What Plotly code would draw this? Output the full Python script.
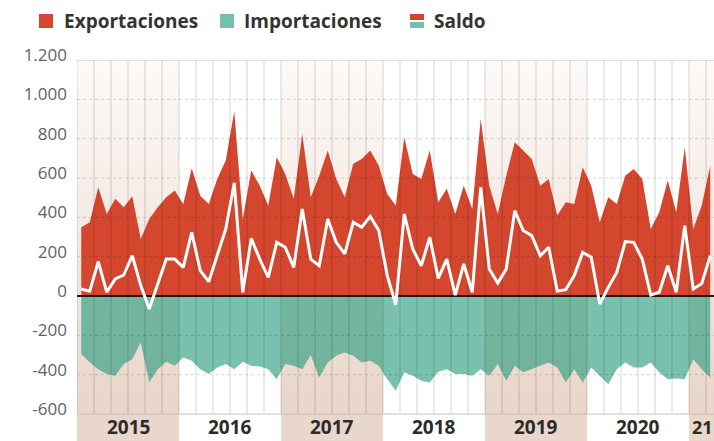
import plotly.graph_objects as go

# ---------------- data ----------------
years = [2015, 2016, 2017, 2018, 2019, 2020, 2021]
year_labels = ["2015", "2016", "2017", "2018", "2019", "2020", "21"]
months = [f"{y}-{m:02d}" for y in years for m in range(1, 13)][:75]

exportaciones = [350, 375, 553, 417, 494, 451, 507, 290, 392, 451, 502, 536,
                 468, 650, 510, 468, 595, 689, 940, 392, 638, 561, 460, 706,
                 621, 494, 824, 502, 612, 740, 595, 502, 672, 697, 740, 663,
                 519, 460, 807, 621, 595, 740, 477, 545, 417, 561, 443, 901,
                 561, 417, 612, 782, 740, 697, 561, 595, 409, 477, 468, 655,
                 561, 375, 502, 468, 612, 646, 595, 341, 426, 587, 426, 757,
                 341, 460, 663]
importaciones = [-295, -338, -372, -397, -405, -346, -321, -236, -439, -372, -334, -355,
                 -312, -329, -372, -397, -363, -346, -372, -334, -355, -358, -372, -423,
                 -346, -355, -372, -300, -414, -338, -304, -287, -304, -338, -329, -355,
                 -423, -482, -388, -405, -431, -439, -385, -372, -397, -397, -405, -372,
                 -405, -346, -431, -355, -388, -372, -355, -338, -363, -439, -372, -439,
                 -363, -405, -448, -372, -338, -363, -363, -338, -388, -423, -419, -423,
                 -321, -372, -414]
saldo = [36, 25, 175, 20, 87, 107, 205, 53, -66, 63, 188, 188,
         146, 324, 129, 73, 205, 341, 575, 19, 293, 188, 95, 273,
         248, 146, 443, 188, 154, 392, 273, 214, 375, 350, 405, 333,
         104, -45, 417, 239, 154, 299, 90, 188, 5, 163, 19, 553,
         137, 66, 137, 434, 333, 307, 205, 248, 25, 32, 104, 222,
         197, -41, 44, 120, 277, 273, 188, 5, 19, 154, 19, 358,
         36, 63, 205]

y_ticks = [-600, -400, -200, 0, 200, 400, 600, 800, 1000, 1200]
y_tick_labels = ["-600", "-400", "-200", "0", "200", "400", "600", "800", "1.000", "1.200"]

# ---------------- style ----------------
RED = "#d4472e"
TEAL = "rgba(38,155,125,0.62)"
TEAL_SOLID = "#72c1ad"
BEIGE = "#ead7cb"
FONT = "Open Sans"

W, H = 714, 441
L, R, T, B = 77, 0, 60, 0
YMIN, YMAX = -737, 1200
x_idx = list(range(len(months)))
XMIN, XMAX = -0.5, -0.5 + (W - L) / 8.5

fig = go.Figure()

# background year bands (gradient) + label strip
for k, y in enumerate(years):
    x0 = 12 * k - 0.5
    x1 = min(12 * k + 11.5, XMAX + 1)
    if k % 2 == 0:
        fig.add_trace(go.Scatter(
            x=[x0, x1, x1, x0, x0], y=[-600, -600, 1200, 1200, -600],
            mode="lines", line=dict(width=0), fill="toself",
            fillgradient=dict(type="vertical", start=-600, stop=1200,
                              colorscale=[[0, "#e9d5c9"], [0.5, "#f4e9e2"], [1, "#fdfaf8"]]),
            hoverinfo="skip", showlegend=False))
        fig.add_trace(go.Scatter(
            x=[x0, x1, x1, x0, x0], y=[YMIN, YMIN, -600, -600, YMIN],
            mode="lines", line=dict(width=0), fill="toself", fillcolor=BEIGE,
            hoverinfo="skip", showlegend=False))

# export / import areas
fig.add_trace(go.Scatter(x=x_idx, y=exportaciones, mode="lines", line=dict(width=0, color=RED),
                         fill="tozeroy", fillcolor=RED, hoverinfo="skip", showlegend=False))
fig.add_trace(go.Scatter(x=x_idx, y=importaciones, mode="lines", line=dict(width=0, color=TEAL),
                         fill="tozeroy", fillcolor=TEAL, hoverinfo="skip", showlegend=False))

# horizontal dotted grid
hx, hy = [], []
for v in y_ticks:
    if v in (0, -600, 1200):
        continue
    hx += [XMIN, XMAX, None]
    hy += [v, v, None]
fig.add_trace(go.Scatter(x=hx, y=hy, mode="lines", line=dict(color="rgba(0,0,0,0.16)", width=1, dash="dot"),
                         hoverinfo="skip", showlegend=False))

# vertical grid every two months (drawn above the areas)
vx, vy = [], []
g = -0.5
while g <= XMAX:
    vx += [g, g, None]
    vy += [-600, 1200, None]
    g += 2
fig.add_trace(go.Scatter(x=vx, y=vy, mode="lines", line=dict(color="rgba(0,0,0,0.17)", width=1),
                         hoverinfo="skip", showlegend=False))

# top / bottom border and zero line
fig.add_trace(go.Scatter(x=[XMIN, XMAX, None, XMIN, XMAX], y=[1200, 1200, None, -600, -600], mode="lines",
                         line=dict(color="#c4c4c4", width=1), hoverinfo="skip", showlegend=False))
fig.add_trace(go.Scatter(x=[XMIN, XMAX], y=[0, 0], mode="lines",
                         line=dict(color="#1a1a1a", width=2), hoverinfo="skip", showlegend=False))

# saldo line
fig.add_trace(go.Scatter(x=x_idx, y=saldo, mode="lines", line=dict(color="white", width=3),
                         hoverinfo="skip", showlegend=False))

# year labels
for k, lab in enumerate(year_labels):
    if 12 * k + 5.5 <= XMAX:
        fig.add_annotation(x=12 * k + 5.5, y=-668, text=f"<b>{lab}</b>", showarrow=False,
                           xanchor="center", yanchor="middle",
                           font=dict(family=FONT, size=19, color="#2b2b2b"))
    else:
        fig.add_annotation(x=12 * k - 0.3, y=-668, text=f"<b>{lab}</b>", showarrow=False,
                           xanchor="left", yanchor="middle", borderpad=0,
                           font=dict(family=FONT, size=18, color="#2b2b2b"))

# custom legend (pixel positions converted to paper)
def px(xp):
    return (xp - L) / (W - L - R)

def py(yp):
    return (H - B - yp) / (H - T - B)

def sq(x0, y0, x1, y1, color):
    fig.add_shape(type="rect", xref="paper", yref="paper", x0=px(x0), x1=px(x1), y0=py(y1), y1=py(y0),
                  fillcolor=color, line=dict(width=0), layer="above")

def txt(x, y, s):
    fig.add_annotation(xref="paper", yref="paper", x=px(x), y=py(y), text=f"<b>{s}</b>", showarrow=False,
                       xanchor="left", yanchor="middle", font=dict(family=FONT, size=19, color="#333333"))

sq(39, 14, 53, 28, RED)
txt(62, 21, "Exportaciones")
sq(220, 14, 234, 28, TEAL_SOLID)
txt(242, 21, "Importaciones")
sq(410, 14, 424, 20, RED)
sq(410, 22, 424, 28, TEAL_SOLID)
txt(432, 21, "Saldo")

fig.update_layout(
    width=W, height=H,
    margin=dict(l=L, r=R, t=T, b=B, pad=0),
    paper_bgcolor="white", plot_bgcolor="white",
    showlegend=False,
    xaxis=dict(range=[XMIN, XMAX], showgrid=False, zeroline=False, showticklabels=False,
               showline=False, ticks=""),
    yaxis=dict(range=[YMIN, YMAX], tickvals=y_ticks, ticktext=y_tick_labels,
               showgrid=False, zeroline=False, showline=False, ticks="",
               ticklabelstandoff=9, ticklabelshift=-5,
               tickfont=dict(family=FONT, size=17, color="#626262")),
)

fig.write_html("out.html", config={"displayModeBar": False},
               post_script="document.body.style.margin='0';")
